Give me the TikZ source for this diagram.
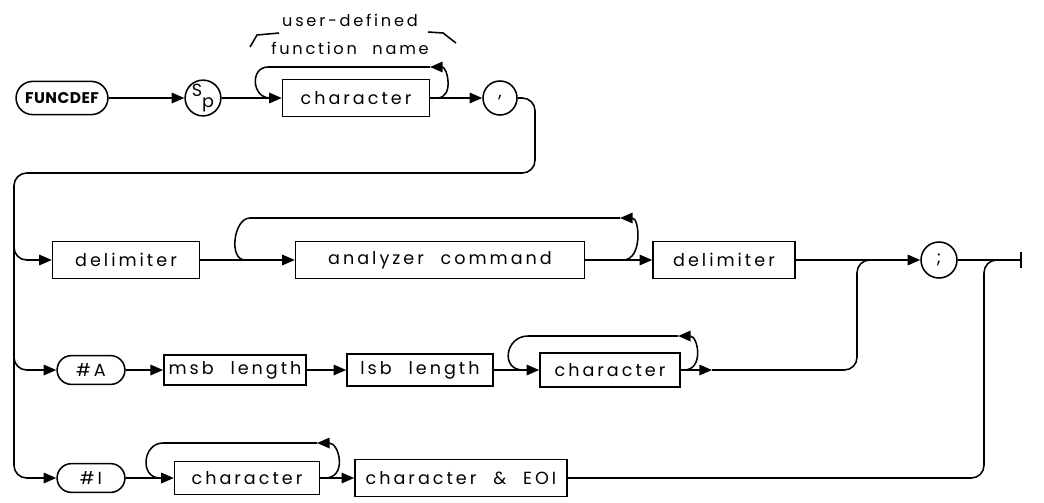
\documentclass[tikz,border=0pt]{standalone}
\usepackage{fontspec}
\setmainfont{Poppins}[LetterSpace=17,WordSpace=2.2]
\usetikzlibrary{arrows.meta,shapes.misc}

\begin{document}
\begin{tikzpicture}[x=0.025cm,y=-0.025cm,
  every node/.style={font=\fontsize{12.5}{20}\selectfont},
  term/.style={draw,rounded rectangle,minimum height=0.72cm,minimum width=1.93cm},
  box/.style={draw,rectangle,minimum height=0.92cm},
  circ/.style={draw,circle,minimum size=0.85cm,inner sep=0pt},
  line width=1.1pt,
  >={Triangle[length=9pt,width=7.5pt]} ]
  \useasboundingbox (0,0) rectangle (1044,502);

  % label over the name
  \node[align=center,font=\fontsize{11.5}{20}\selectfont] (fname) at (350,34) {user-defined\\function name};
  \draw (250,47) -- (257,35) -- (279,33);
  \draw (428,32) -- (443,33) -- (456,43);

  % row 1
  \node[term,font=\bfseries\fontsize{11}{14}\selectfont\addfontfeatures{LetterSpace=3},minimum width=2.53cm,minimum height=0.83cm] (funcdef) at (62,98) {FUNCDEF};
  \node[circ] (sp) at (203,98) {\raisebox{4pt}{S}\raisebox{-4pt}{p}};
  \node[box,minimum width=3.67cm] (ch1) at (356,98) {character};
  \node[circ] (comma) at (500,98) {,};

  % row 2
  \node[box,minimum width=3.67cm] (delim1) at (126,260) {delimiter};
  \node[box,minimum width=7.22cm] (anlz) at (440,260) {analyzer command};
  \node[box,minimum width=3.55cm] (delim2) at (724,260) {delimiter};
  \node[circ,minimum size=0.9cm] (semi) at (939,260) {;};

  % row 3
  \node[term] (hashA) at (91,370) {\#A};
  \node[box,minimum width=3.5cm,minimum height=0.75cm] (msb) at (235,370) {msb length};
  \node[box,minimum width=3.65cm,minimum height=0.8cm] (lsb) at (420,370) {lsb length};
  \node[box,minimum width=3.5cm,minimum height=0.85cm] (ch2) at (610,370) {character};

  % row 4
  \node[term] (hashI) at (91,478) {\#I};
  \node[box,minimum width=3.62cm,minimum height=0.82cm] (ch3) at (247,478) {character};
  \node[box,minimum width=5.3cm] (eoi) at (461,478) {character \& EOI};

  \coordinate (j1l) at (270,98);  \coordinate (k1l) at (268,67);
  \coordinate (k1r) at (430,67);  \coordinate (j1r) at (437,98);
  \coordinate (j2l) at (245,260); \coordinate (k2l) at (250,218);
  \coordinate (k2r) at (620,218); \coordinate (j2r) at (623,260);
  \coordinate (j3l) at (523,370); \coordinate (k3l) at (528,336);
  \coordinate (k3r) at (678,336); \coordinate (j3r) at (684,370);
  \coordinate (j4l) at (160,478); \coordinate (k4l) at (163,443);
  \coordinate (k4r) at (317,443); \coordinate (j4r) at (325,478);
  \coordinate (c1) at (535,173);  \coordinate (tl) at (14,173);
  \coordinate (bl) at (14,478);   \coordinate (b2) at (14,240);
  \coordinate (b3) at (14,350);   \coordinate (a3) at (712,370);
  \coordinate (m3) at (857,260);  \coordinate (m3e) at (880,260);
  \coordinate (m4) at (984,260);  \coordinate (m4e) at (1005,260);
  \coordinate (fin) at (1022,260);

  \draw[->] (funcdef) -- (sp);
  \draw[->] (sp) -- (ch1);
  \draw[->] (ch1) -- (comma);
  \draw[->] (j1r) to[out=0,in=0,looseness=1.4] (k1r);
  \draw (k1r) -- (k1l) to[out=180,in=180,looseness=1.5] (j1l);

  \draw[->,rounded corners=9pt] (comma) -| (c1) -- (tl) -- (bl) -- (hashI);
  \draw[->,rounded corners=9pt] (b2) |- (delim1);
  \draw[->,rounded corners=9pt] (b3) |- (hashA);

  \draw[->] (delim1) -- (anlz);
  \draw[->] (anlz) -- (delim2);
  \draw[->] (delim2) -- (semi);
  \draw[->] (j2r) to[out=0,in=0,looseness=1.2] (k2r);
  \draw (k2r) -- (k2l) to[out=180,in=180,looseness=1] (j2l);
  \draw[-{Bar[width=0.42cm]}] (semi) -- (fin);

  \draw[->] (hashA) -- (msb);
  \draw[->] (msb) -- (lsb);
  \draw[->] (lsb) -- (ch2);
  \draw[->] (ch2) -- (a3);
  \draw[->] (j3r) to[out=0,in=0,looseness=1.5] (k3r);
  \draw (k3r) -- (k3l) to[out=180,in=180,looseness=1.7] (j3l);
  \draw[rounded corners=9pt] (a3) -| (m3) -- (m3e);

  \draw[->] (hashI) -- (ch3);
  \draw[->] (ch3) -- (eoi);
  \draw[->] (j4r) to[out=0,in=0,looseness=1.6] (k4r);
  \draw (k4r) -- (k4l) to[out=180,in=180,looseness=1.5] (j4l);
  \draw[rounded corners=9pt] (eoi) -| (m4) -- (m4e);
\end{tikzpicture}
\end{document}
